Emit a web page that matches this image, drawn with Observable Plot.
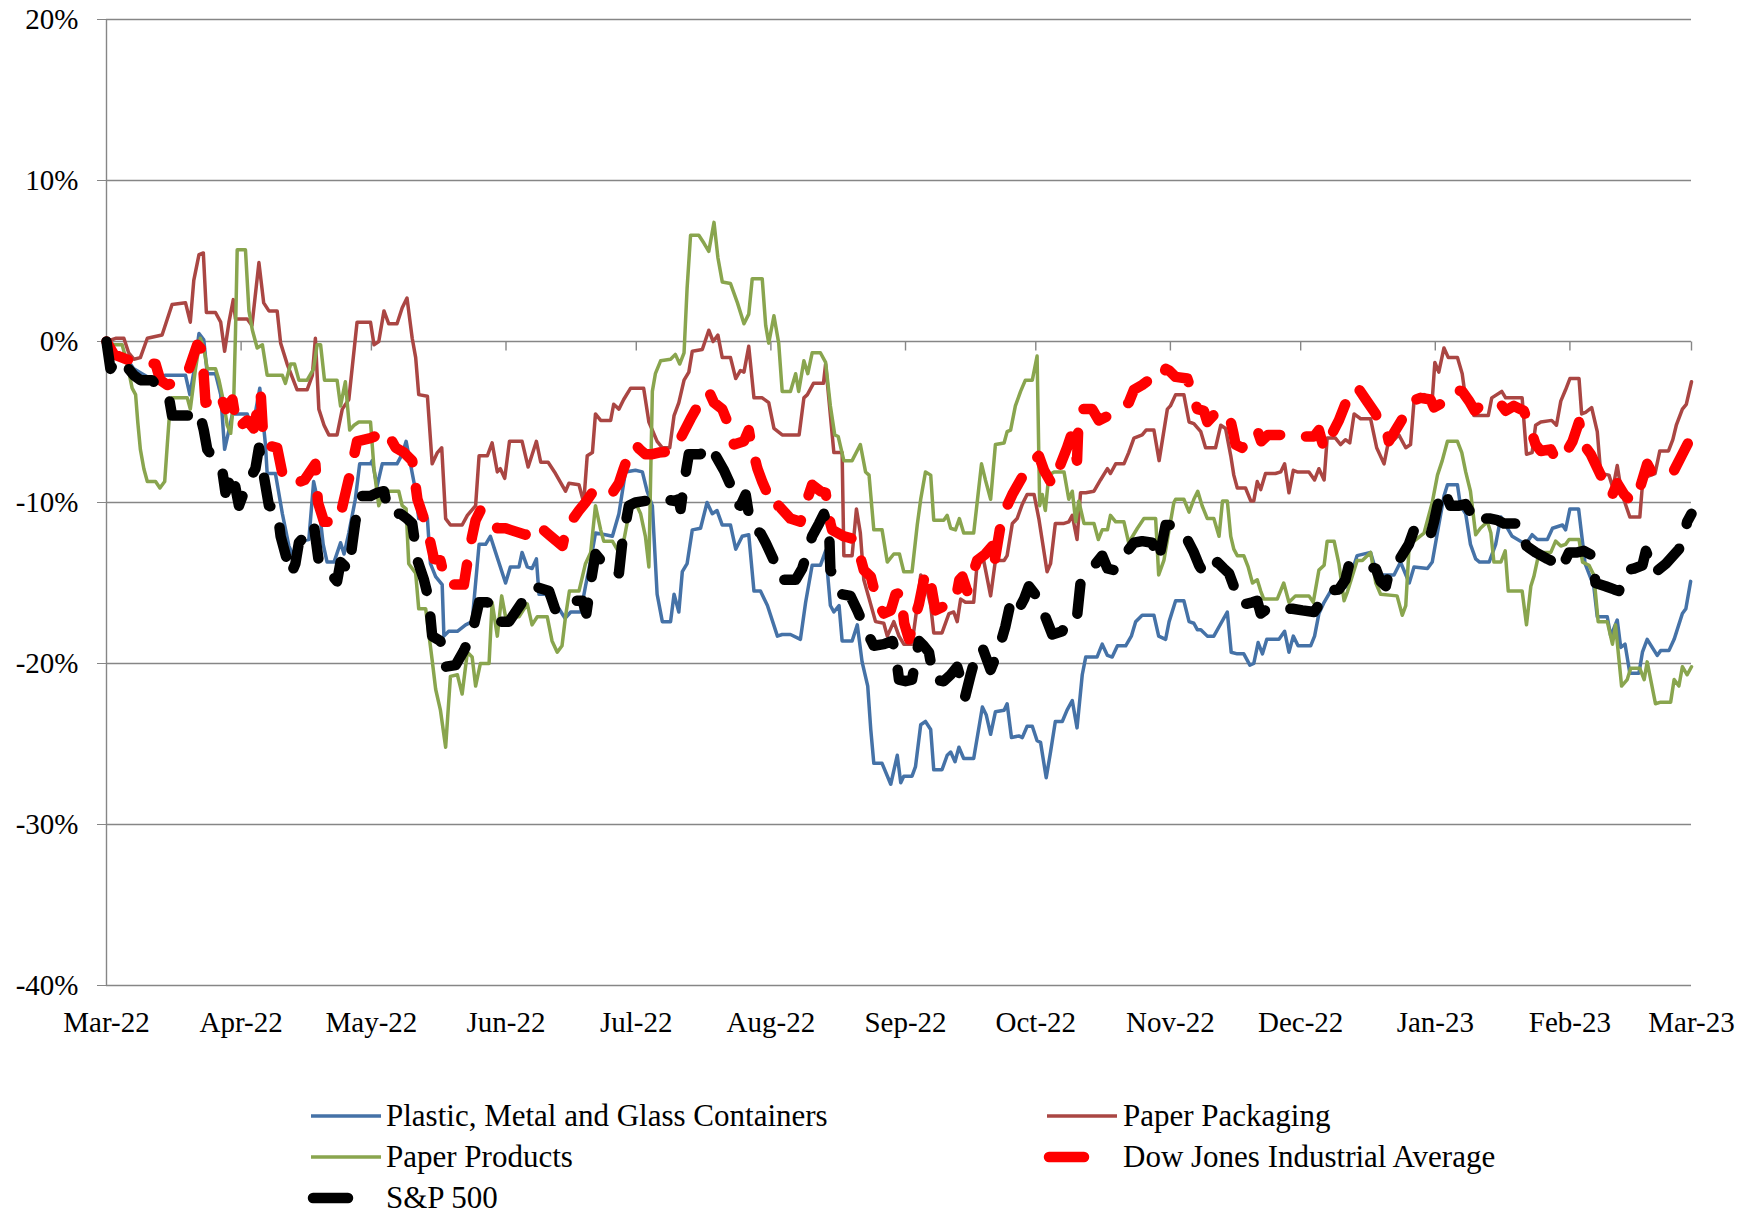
<!DOCTYPE html>
<html>
<head>
<meta charset="utf-8">
<script src="https://cdn.jsdelivr.net/npm/d3@7"></script>
<script src="https://cdn.jsdelivr.net/npm/@observablehq/plot@0.6"></script>
<style>
  html, body { margin: 0; padding: 0; background: #fff; }
  #wrap { position: relative; width: 1756px; height: 1214px; font-family: "Liberation Serif", "Times New Roman", serif; }
  #chart svg { overflow: visible; }
  .lg-sw { position: absolute; overflow: visible; }
  .lg-tx { position: absolute; font-size: 31px; line-height: 34px; color: #000; white-space: nowrap; }
</style>
</head>
<body>
<div id="wrap"><div id="chart"></div></div>
<script>
// ---------- data (day offset from 1 Mar 2022, % change) ----------
const START = Date.UTC(2022, 2, 1);
const END = Date.UTC(2023, 2, 1);
const DAY = 864e5;

const seriesNames = ["Plastic, Metal and Glass Containers", "Paper Packaging", "Paper Products", "Dow Jones Industrial Average", "S&P 500"];
const seriesColors = ["#4572A7", "#AA4643", "#89A54E", "#FF0000", "#000000"];

const plastic = [[0,0],[1.7,-0.7],[4.0,-0.8],[6.3,-1.7],[8.2,-2.0],[10.1,-2.3],[13.6,-2.1],[18.2,-2.1],[19.2,-3.3],[20.1,-1.9],[21.3,0.5],[22.4,0.1],[23.2,-2.0],[25.1,-2.0],[26.3,-3.3],[27.2,-6.7],[28.2,-5.5],[29.0,-4.5],[32.4,-4.5],[33.5,-5.6],[35.3,-2.9],[36.6,-6.4],[37.0,-8.2],[38.9,-8.2],[40.5,-10.7],[42.0,-12.7],[42.8,-13.2],[44.7,-12.4],[46.6,-12.3],[47.7,-8.7],[48.9,-10.2],[49.9,-12.6],[50.8,-13.7],[52.4,-13.7],[53.9,-12.5],[54.7,-13.2],[55.8,-11.9],[57.3,-9.8],[58.3,-7.6],[60.8,-7.6],
[61.2,-7.4],[62.3,-9.0],[63.5,-7.6],[66.9,-7.6],[68.1,-7.0],[69.0,-6.2],[71.2,-9.3],[71.9,-11.0],[73.9,-11.0],[74.6,-13.8],[75.8,-14.6],[77.3,-15.1],[77.7,-18.3],[78.8,-18.0],[80.8,-18.0],[82.7,-17.6],[84.2,-17.4],[85.8,-12.6],[87.3,-12.6],[88.4,-12.1],[89.6,-13.1],[91.9,-15.0],[93.0,-14.0],[95.0,-14.0],[95.7,-13.1],[96.9,-14.0],[98.0,-14.1],[99.0,-13.5],[99.6,-15.7],[101.1,-15.7],[102.6,-16.2],[104.2,-16.6],[105.6,-17.2],[106.9,-16.8],[109.2,-16.8],[110.3,-15.2],[111.5,-13.6],[112.6,-11.9],[114.9,-12.0],[116.5,-12.1],[118.0,-10.7],[119.5,-8.1],[121.8,-8.0],
[123.4,-8.1],[124.5,-9.3],[125.7,-10.2],[126.8,-15.7],[128.0,-17.4],[129.9,-17.4],[130.7,-15.7],[131.8,-16.8],[132.6,-14.3],[133.7,-13.8],[134.9,-11.7],[136.8,-11.6],[138.3,-10.0],[139.5,-10.7],[140.6,-10.5],[141.8,-11.4],[143.7,-11.4],[144.9,-12.9],[146.4,-12.1],[147.9,-12.0],[149.1,-15.5],[150.6,-15.5],[152.2,-16.4],[154.5,-18.3],[155.6,-18.2],[157.5,-18.2],[159.8,-18.5],[161.0,-16.2],[162.5,-13.9],[164.4,-13.9],[165.6,-13.0],[166.7,-16.4],[167.5,-16.8],[168.7,-16.4],[169.4,-18.6],[171.7,-18.6],[172.9,-17.6],[174.0,-19.9],[175.3,-21.4],[176.0,-24.1],[176.7,-26.2],[178.6,-26.2],[180.6,-27.5],[182.1,-25.7],[182.9,-27.4],
[183.6,-27.0],[185.5,-27.0],[186.3,-26.4],[187.5,-23.8],[188.6,-23.6],[189.8,-24.1],[190.5,-26.6],[192.4,-26.6],[193.6,-25.7],[194.4,-25.5],[195.4,-26.1],[196.3,-25.2],[197.4,-25.9],[199.7,-25.9],[201.7,-22.7],[202.6,-23.2],[203.6,-24.4],[204.7,-23.0],[206.7,-22.9],[207.4,-22.5],[208.4,-24.6],[210.1,-24.5],[210.9,-24.6],[212.0,-23.9],[213.2,-23.9],[214.3,-24.8],[215.1,-24.9],[216.4,-27.1],[217.4,-25.5],[218.5,-23.6],[220.1,-23.6],[221.2,-22.9],[222.4,-22.3],[223.5,-24.0],[224.7,-20.7],[225.5,-19.6],[228.1,-19.6],[229.3,-18.8],[230.5,-19.5],[231.6,-19.6],[232.8,-18.9],[234.7,-18.9],[236.0,-18.3],[237.0,-17.4],[238.5,-17.0],[241.2,-17.0],[242.3,-18.3],[243.9,-18.5],
[244.7,-17.4],[246.2,-16.1],[248.1,-16.1],[249.3,-17.4],[250.4,-17.5],[251.2,-17.9],[252.0,-17.9],[253.5,-18.3],[255.0,-18.3],[258.1,-16.8],[259.0,-19.3],[260.4,-19.4],[261.9,-19.4],[263.3,-20.1],[264.2,-20.0],[265.2,-18.7],[266.2,-19.4],[267.2,-18.5],[270.0,-18.5],[271.3,-18.0],[272.3,-19.3],[273.3,-18.3],[274.4,-18.9],[277.3,-18.9],[278.2,-18.3],[279.2,-16.9],[280.4,-16.2],[281.9,-15.5],[284.2,-15.4],[285.7,-15.2],[288.0,-13.3],[291.1,-13.1],[292.3,-14.2],[293.4,-14.5],[296.5,-14.5],[298.0,-13.7],[300.0,-15.0],[301.1,-14.0],[304.2,-14.1],
[305.3,-13.7],[306.8,-11.4],[308.0,-9.6],[308.8,-8.9],[311.1,-8.9],[311.8,-10.2],[313.0,-10.7],[314.1,-12.6],[315.3,-13.5],[316.2,-13.7],[318.4,-13.7],[319.9,-12.6],[321.1,-10.9],[323.7,-12.1],[326.8,-12.6],[328.3,-12.0],[329.5,-12.3],[331.8,-12.3],[333.0,-11.6],[335.3,-11.4],[336.0,-11.7],[337.0,-10.4],[339.0,-10.4],[340.5,-13.8],[342.5,-15.2],[343.3,-17.1],[345.6,-17.1],[346.4,-18.3],[347.9,-17.3],[348.7,-19.0],[349.7,-18.8],[350.8,-20.6],[352.9,-20.6],[353.7,-19.3],[354.8,-18.5],[357.1,-19.5],[357.9,-19.2],[359.8,-19.2],[361.0,-18.5],[362.9,-16.9],[363.7,-16.6],[364.8,-14.9]];

const packaging = [[0,0],[2.1,0.2],[4.0,0.2],[5.1,-0.7],[6.3,-1.1],[7.8,-1.0],[9.4,0.2],[12.8,0.4],[15.1,2.3],[18.2,2.4],[19.3,1.2],[20.1,3.8],[21.3,5.4],[22.3,5.5],[23.0,1.8],[25.1,1.8],[26.3,1.2],[27.2,-0.6],[28.2,1.2],[29.2,2.6],[29.7,1.4],[32.4,1.4],[33.5,1.0],[35.1,4.9],[36.2,2.4],[37.4,1.9],[39.3,1.9],[40.1,-0.1],[41.6,-1.4],[43.9,-3.0],[46.2,-3.0],[47.4,-2.1],[48.1,0.2],[48.9,-4.2],[50.1,-5.2],[51.2,-5.8],[53.1,-5.8],[54.3,-4.2],[55.8,-3.6],[57.7,1.2],[60.8,1.2],
[61.6,-0.2],[62.7,0],[63.9,1.9],[65.0,1.1],[66.9,1.1],[68.1,2.1],[69.2,2.7],[70.4,0.2],[71.2,-1.0],[71.9,-3.3],[73.9,-3.4],[75.0,-7.6],[76.2,-6.9],[77.2,-6.6],[78.1,-11.0],[79.2,-11.4],[81.9,-11.4],[83.1,-10.8],[85.0,-10.2],[85.8,-7.1],[87.7,-7.1],[88.8,-6.3],[90.0,-8.1],[90.7,-7.9],[91.7,-8.5],[92.8,-6.2],[95.7,-6.2],[97.1,-7.8],[99.0,-6.2],[100.0,-7.5],[101.7,-7.5],[103.4,-8.2],[105.7,-9.3],[106.5,-8.8],[108.8,-8.9],[109.9,-10.0],[110.7,-7.1],[111.9,-6.9],[112.6,-4.5],[113.8,-4.9],[116.1,-4.9],[116.8,-3.9],[118.0,-4.2],[119.1,-3.6],[120.7,-2.9],[121.8,-2.9],
[123.7,-2.9],[124.9,-5.0],[126.8,-6.2],[128.0,-6.6],[129.7,-6.6],[130.7,-4.6],[131.8,-3.8],[133.0,-2.4],[134.1,-1.9],[134.9,-0.6],[137.2,-0.5],[138.7,0.7],[139.7,0],[140.8,0.4],[141.8,-1.0],[143.7,-1.0],[144.9,-2.3],[146.0,-1.8],[146.8,-1.9],[147.9,-0.3],[149.1,-3.5],[151.0,-3.5],[152.5,-3.8],[153.7,-5.4],[155.6,-5.8],[159.5,-5.8],[160.6,-3.5],[161.4,-3.3],[162.8,-2.6],[165.1,-2.6],[165.6,-1.4],[167.5,-6.9],[169.4,-6.9],[169.8,-13.3],[171.7,-13.3],[172.7,-10.4],[173.6,-11.9],[174.4,-14.8],[177.1,-17.4],[179.0,-17.5],[179.8,-18.3],[181.3,-17.4],
[182.5,-18.3],[183.6,-18.8],[185.5,-18.8],[186.7,-16.4],[187.5,-14.5],[188.6,-15.0],[189.8,-16.4],[190.5,-18.1],[192.4,-18.1],[194.0,-16.9],[195.1,-16.8],[195.9,-17.4],[196.7,-16.0],[197.8,-16.2],[199.7,-16.2],[200.5,-13.8],[202.0,-13.6],[203.6,-15.8],[204.7,-13.6],[206.7,-13.6],[207.4,-13.3],[208.6,-11.3],[209.7,-11.0],[210.9,-10.1],[212.0,-9.5],[213.6,-9.5],[214.7,-11.0],[216.6,-14.3],[217.4,-13.8],[218.5,-11.3],[220.5,-11.3],[221.6,-11.2],[222.4,-10.8],[223.5,-12.3],[224.3,-9.4],[225.5,-9.4],[227.4,-9.3],[228.9,-8.6],[230.5,-7.9],[231.2,-8.2],[232.4,-7.6],[234.3,-7.6],[235.4,-6.9],[236.6,-6.0],[238.5,-5.8],[239.4,-5.5],[241.2,-5.5],[242.4,-7.4],
[244.3,-4.2],[245.0,-4.0],[246.2,-3.3],[248.1,-3.3],[249.3,-5.0],[250.4,-5.1],[252.0,-5.6],[253.1,-6.6],[255.4,-6.6],[256.6,-5.2],[257.7,-5.4],[258.9,-7.1],[259.6,-8.3],[260.4,-9.1],[262.3,-9.1],[263.5,-9.9],[264.2,-9.9],[265.0,-8.7],[265.8,-9.2],[266.9,-8.2],[269.2,-8.2],[270.4,-8.1],[271.3,-7.6],[272.3,-9.4],[273.3,-8.0],[274.2,-8.1],[276.9,-8.1],[278.2,-8.6],[279.2,-7.9],[280.4,-8.6],[281.1,-6.0],[283.0,-6.0],[284.2,-6.4],[285.3,-6.1],[286.3,-6.3],[287.3,-4.5],[288.8,-4.8],[291.1,-4.8],[292.5,-6.6],[294.2,-7.6],[295.3,-6.1],[296.5,-6.1],[297.6,-5.8],[299.2,-6.6],[300.3,-6.4],[301.1,-3.7],[302.2,-3.6],[303.4,-3.3],
[305.3,-3.6],[305.9,-1.3],[306.8,-1.9],[308.0,-0.4],[309.0,-1.0],[311.1,-1.0],[312.2,-2.0],[312.8,-3.2],[314.9,-4.6],[318.2,-4.6],[319.0,-3.5],[321.3,-3.1],[322.2,-3.5],[326.0,-3.5],[327.0,-7.0],[328.3,-6.9],[329.1,-5.2],[330.3,-5.0],[332.8,-4.9],[333.9,-5.2],[334.9,-3.7],[336.0,-3.0],[337.0,-2.3],[339.1,-2.3],[339.7,-4.5],[340.6,-4.4],[342.0,-4.1],[343.3,-5.6],[344.1,-8.2],[346.0,-8.3],[346.9,-9.1],[347.9,-7.7],[348.9,-9.4],[350.8,-10.9],[353.1,-10.9],[353.7,-8.9],[354.6,-8.4],[356.6,-8.2],[357.7,-6.8],[359.7,-6.8],[360.7,-6.1],[361.5,-5.2],[362.9,-4.2],[363.8,-3.9],[365.0,-2.5]];

const products = [[0,0],[1.7,-0.2],[3.6,-0.2],[4.8,-1.4],[5.9,-2.9],[6.7,-3.3],[7.2,-5.0],[7.8,-6.7],[8.6,-7.9],[9.4,-8.7],[11.3,-8.7],[12.3,-9.1],[13.4,-8.7],[14.0,-6.4],[14.7,-3.8],[15.1,-3.5],[18.6,-3.5],[19.3,-4.2],[20.5,-1.7],[21.6,0.2],[22.4,-0.4],[23.2,-1.7],[25.1,-1.7],[25.9,-2.4],[27.0,-3.8],[27.8,-5.2],[28.6,-5.7],[29.3,-3.6],[29.7,0.5],[30.1,5.7],[32.0,5.7],[32.8,1.9],[33.6,0.7],[34.7,-0.4],[35.9,-0.2],[37.0,-2.1],[40.5,-2.1],[41.2,-2.6],[42.4,-1.4],[43.3,-1.4],[44.3,-2.4],[46.2,-2.4],[47.7,-1.7],[48.5,-0.2],[49.3,-0.2],[50.2,-2.4],[53.1,-2.4],[53.9,-4.0],[55.0,-2.5],[56.0,-5.5],[57.0,-5.2],[58.1,-5.0],[60.8,-5.0],
[61.6,-7.9],[62.7,-10.2],[63.9,-9.3],[67.3,-9.3],[68.1,-10.2],[69.0,-10.4],[69.6,-13.8],[71.2,-14.4],[71.9,-16.6],[73.5,-16.6],[75.0,-19.8],[75.8,-21.6],[76.9,-22.9],[78.1,-25.2],[79.2,-20.8],[80.8,-20.7],[81.9,-21.9],[83.1,-19.3],[84.2,-19.6],[85.0,-21.4],[86.1,-20.0],[88.1,-20.0],[88.8,-16.2],[90.0,-18.3],[91.0,-15.8],[91.9,-17.1],[95.0,-17.1],[96.9,-16.3],[98.0,-17.6],[99.2,-17.1],[101.5,-17.1],[102.6,-18.6],[103.8,-19.3],[104.9,-18.9],[105.7,-17.1],[106.6,-15.5],[108.8,-15.5],[110.3,-13.8],[111.5,-13.1],[112.6,-10.2],[113.8,-11.7],[114.5,-12.4],[116.5,-12.4],[118.0,-13.1],[119.1,-12.4],[120.3,-10.7],[121.8,-10.0],
[123.0,-10.7],[124.1,-12.1],[124.9,-14.0],[125.7,-3.1],[126.4,-2.0],[127.6,-1.2],[129.9,-1.1],[131.0,-0.8],[132.0,-1.4],[133.0,-0.7],[133.7,3.3],[134.5,6.6],[136.4,6.6],[137.6,6.1],[138.7,5.6],[139.9,7.4],[140.8,5.2],[141.8,3.7],[143.7,3.6],[145.3,2.4],[146.8,1.1],[147.9,1.7],[148.7,3.9],[151.0,3.9],[151.8,1.0],[152.5,-0.1],[153.7,1.6],[154.8,-0.1],[155.6,-3.1],[157.5,-3.1],[158.7,-2.0],[159.4,-3.1],[160.6,-1.2],[161.5,-2.0],[162.5,-0.7],[164.4,-0.7],[165.6,-1.3],[166.7,-4.0],[167.7,-5.8],[168.5,-5.9],[169.8,-7.4],[171.7,-7.4],[173.6,-6.4],[174.8,-8.1],[175.6,-8.3],[176.7,-11.7],[178.6,-11.7],[179.8,-13.7],[181.3,-13.2],[182.6,-13.2],
[183.6,-14.3],[185.5,-14.3],[186.7,-11.4],[187.5,-9.8],[188.6,-8.1],[189.8,-8.3],[190.5,-11.1],[192.8,-11.1],[193.6,-10.8],[194.4,-11.6],[195.5,-11.7],[196.4,-11.0],[197.4,-11.9],[199.7,-11.9],[200.5,-10.0],[201.5,-7.6],[202.4,-8.6],[203.6,-9.8],[204.7,-6.4],[206.7,-6.3],[207.4,-5.6],[208.2,-5.5],[209.3,-4.0],[210.5,-3.1],[211.6,-2.4],[213.2,-2.4],[214.3,-0.9],[214.9,-10.2],[215.5,-9.5],[216.2,-10.5],[217.0,-8.3],[218.2,-8.1],[220.5,-8.1],[221.6,-9.8],[222.4,-9.3],[223.2,-11.2],[223.9,-9.9],[225.1,-11.3],[227.4,-11.3],[228.4,-12.3],[229.3,-11.7],[230.5,-11.7],[231.2,-10.8],[232.4,-11.2],[234.3,-11.2],[235.4,-12.5],[237.4,-11.6],[238.9,-11.0],[241.6,-11.0],[242.3,-14.5],
[243.5,-13.6],[244.7,-11.7],[245.8,-10.0],[246.2,-9.8],[248.1,-9.8],[249.3,-10.6],[250.4,-9.8],[251.3,-9.3],[252.3,-10.2],[253.5,-11.0],[255.0,-11.0],[256.2,-12.1],[257.0,-9.9],[258.1,-9.9],[258.9,-12.1],[259.6,-12.9],[260.4,-13.3],[261.9,-13.3],[262.9,-14.0],[263.9,-15.0],[265.0,-14.8],[265.8,-15.5],[266.5,-16.0],[269.6,-16.0],[271.1,-15.0],[272.3,-16.2],[273.8,-15.8],[276.9,-15.8],[277.9,-16.2],[279.2,-14.2],[280.4,-13.9],[281.1,-12.4],[282.7,-12.4],[283.8,-13.8],[285.0,-16.1],[285.7,-15.6],[288.0,-13.6],[289.2,-13.6],[291.1,-13.1],[292.3,-15.0],[293.4,-15.7],[297.2,-15.8],[298.4,-17.0],[299.2,-16.4],[300.0,-12.6],[301.1,-12.4],[303.4,-11.9],
[305.3,-10.0],[306.5,-8.3],[307.6,-7.4],[308.8,-6.2],[311.1,-6.2],[312.1,-6.9],[313.0,-8.1],[314.1,-9.3],[315.3,-12.0],[316.4,-11.6],[318.0,-11.2],[318.8,-11.9],[319.5,-13.7],[321.1,-13.7],[322.1,-13.0],[322.8,-15.5],[326.0,-15.5],[327.0,-17.6],[328.0,-15.2],[328.7,-14.6],[329.9,-13.1],[332.6,-13.1],[333.7,-12.4],[334.9,-12.7],[336.0,-12.6],[336.8,-12.3],[339.1,-12.3],[339.9,-13.7],[341.4,-13.9],[342.5,-14.5],[343.5,-17.4],[345.6,-17.4],[346.8,-18.8],[347.5,-17.6],[348.9,-21.4],[350.2,-21.0],[351.0,-20.3],[353.1,-20.3],[354.1,-21.0],[354.8,-19.9],[356.7,-22.5],[357.9,-22.4],[360.2,-22.4],[361.0,-21.0],[362.1,-21.4],[362.9,-20.2],[364.0,-20.7],[365.0,-20.2]];

const djia = [[0,0],[1.7,-0.8],[5.5,-1.2],[8.6,-1.3],[11.3,-1.4],[12.4,-2.4],[14.0,-2.7],[17.0,-2.4],[19.0,-1.7],[20.9,-0.2],[22.0,-0.5],[22.8,-3.8],[24.7,-3.6],[26.1,-3.2],[27.4,-4.2],[29.0,-3.6],[30.1,-5.4],[32.4,-4.9],[33.9,-5.4],[35.5,-3.2],[36.2,-6.4],[39.3,-6.6],[40.5,-8.2],[42.8,-8.9],[45.6,-8.6],[48.1,-7.6],[48.7,-10.0],[50.1,-11.2],[53.5,-11.2],[55.4,-9.0],[56.2,-8.1],[57.7,-6.2],[60.8,-6.0],
[62.7,-5.8],[64.3,-5.5],[66.6,-6.6],[68.5,-6.9],[70.4,-7.4],[71.6,-9.8],[73.1,-11.0],[74.2,-12.0],[75.4,-13.5],[76.9,-13.6],[78.1,-15.0],[78.8,-15.1],[82.3,-15.1],[83.1,-13.7],[84.2,-12.1],[85.0,-11.1],[86.1,-10.5],[88.4,-10.7],[90.0,-11.6],[91.9,-11.6],[93.0,-11.7],[96.5,-12.0],[98.8,-11.3],[101.9,-12.0],[105.0,-12.7],[106.1,-11.3],[107.2,-11.1],[108.8,-10.5],[110.3,-10.0],[112.6,-9.1],[116.5,-9.4],[118.0,-8.8],[119.1,-7.9],[120.7,-6.7],[121.8,-6.4],
[122.8,-6.7],[124.1,-7.0],[125.7,-7.0],[127.2,-6.9],[130.7,-6.8],[132.2,-6.0],[132.6,-5.8],[134.5,-4.8],[136.8,-3.7],[138.7,-3.1],[139.9,-3.8],[141.8,-4.2],[143.3,-5.2],[144.5,-6.4],[146.8,-6.2],[147.9,-5.5],[148.5,-6.4],[149.9,-7.9],[151.0,-8.7],[153.7,-10.4],[154.8,-10.2],[157.5,-11.0],[159.8,-11.2],[161.0,-10.1],[162.5,-8.9],[164.4,-9.3],[165.6,-9.4],[166.7,-11.3],[167.1,-11.7],[169.8,-12.1],[172.5,-12.3],[174.4,-14.2],[176.0,-14.6],[177.5,-16.2],[179.0,-16.9],[180.6,-16.7],[181.7,-15.7],[182.9,-15.6],
[183.7,-17.5],[184.8,-18.5],[185.9,-17.4],[187.1,-16.3],[188.6,-14.3],[189.8,-15.0],[190.9,-16.7],[193.2,-16.4],[195.5,-16.1],[196.4,-14.8],[197.1,-14.6],[198.2,-15.5],[199.4,-14.5],[200.5,-13.6],[202.4,-13.2],[204.0,-12.7],[204.3,-14.0],[205.9,-11.4],[207.4,-10.2],[208.6,-9.5],[210.7,-8.5],[212.8,-7.6],[214.7,-7.1],[215.9,-8.0],[217.8,-8.9],[219.3,-7.9],[221.2,-6.6],[222.2,-5.8],[223.5,-7.4],[223.9,-4.5],[224.7,-4.2],[227.0,-4.2],[228.5,-4.9],[231.6,-4.5],[235.4,-3.8],[236.6,-3.0],[238.5,-2.7],[240.0,-2.4],[243.1,-2.4],[243.9,-1.7],
[244.7,-1.8],[246.2,-2.2],[248.9,-2.3],[250.0,-3.2],[251.2,-4.2],[252.7,-4.3],[253.5,-5.0],[255.2,-4.5],[256.2,-4.6],[258.5,-4.5],[259.5,-5.7],[260.0,-6.4],[261.5,-6.6],[263.5,-6.0],[265.0,-5.5],[265.9,-6.2],[267.5,-5.8],[271.1,-5.8],[273.1,-5.9],[275.0,-5.9],[278.1,-5.9],[279.2,-5.5],[280.4,-6.7],[281.9,-5.9],[283.8,-4.9],[285.7,-3.6],[288.0,-2.8],[290.0,-3.6],[292.3,-4.5],[293.4,-5.5],[294.9,-5.7],[295.3,-6.2],[298.0,-5.0],[300.7,-3.7],[302.6,-3.5],[304.9,-3.6],
[305.7,-4.1],[308.4,-3.7],[310.7,-3.0],[312.2,-3.1],[313.8,-3.7],[315.1,-4.3],[316.8,-3.9],[319.1,-3.8],[321.1,-3.9],[322.2,-4.3],[324.1,-4.0],[326.4,-4.3],[328.0,-5.5],[329.1,-6.4],[330.3,-6.8],[332.6,-6.7],[333.7,-7.3],[335.3,-7.3],[337.6,-6.2],[339.1,-5.0],[340.2,-6.4],[341.8,-7.0],[344.1,-8.3],[345.6,-9.5],[346.8,-9.5],[347.9,-8.8],[349.5,-9.5],[351.4,-10.0],[352.9,-9.3],[354.8,-7.6],[356.0,-8.2],[359.1,-8.3],[361.0,-8.0],[362.9,-7.0],[364.4,-6.2],[365.0,-6.0]];

const sp500 = [[0,0],[0.9,-1.7],[2.1,-1.2],[3.6,-1.1],[5.1,-1.7],[6.3,-2.1],[7.8,-2.4],[10.5,-2.4],[12.1,-2.9],[13.2,-3.2],[14.4,-3.5],[15.1,-4.6],[20.1,-4.6],[21.3,-4.3],[22.4,-5.5],[23.2,-6.7],[25.1,-7.4],[26.6,-7.9],[27.4,-9.4],[29.0,-8.1],[30.5,-10.2],[32.4,-8.8],[34.3,-7.9],[35.1,-6.6],[36.2,-8.3],[37.4,-10.2],[39.3,-10.4],[40.1,-12.1],[41.6,-13.6],[42.4,-14.5],[43.5,-13.8],[44.3,-12.5],[46.2,-11.9],[47.7,-11.3],[48.9,-13.7],[51.2,-14.3],[53.1,-14.9],[53.9,-13.7],[55.8,-14.2],[56.6,-12.6],[57.3,-11.2],[58.5,-9.6],[60.8,-9.6],
[62.3,-9.4],[63.9,-9.3],[65.0,-10.7],[67.7,-10.7],[69.2,-11.0],[70.4,-11.3],[71.6,-13.6],[73.1,-14.8],[74.2,-16.0],[75.0,-18.3],[76.9,-18.6],[78.1,-20.2],[80.4,-20.1],[82.3,-19.2],[84.2,-18.1],[85.8,-16.2],[87.7,-16.2],[89.6,-16.4],[90.7,-17.4],[92.7,-17.4],[95.7,-16.2],[98.4,-15.2],[101.9,-15.5],[103.4,-16.7],[105.0,-16.3],[106.5,-16.1],[109.6,-16.1],[110.5,-16.9],[111.5,-15.0],[112.6,-13.2],[114.5,-13.8],[116.5,-13.8],[118.0,-14.4],[118.8,-12.4],[120.3,-10.2],[121.8,-10.0],
[124.1,-9.9],[126.4,-9.7],[130.7,-9.9],[131.8,-9.8],[132.2,-10.4],[133.0,-8.8],[134.1,-7.0],[136.8,-7.0],[138.7,-6.4],[140.3,-7.1],[142.2,-8.0],[143.7,-8.9],[144.9,-10.1],[146.0,-10.2],[147.2,-9.5],[147.9,-10.7],[149.1,-11.7],[150.6,-11.9],[151.8,-12.5],[153.7,-13.6],[155.2,-14.8],[158.7,-14.8],[160.2,-14.1],[161.4,-13.1],[162.5,-12.1],[164.1,-11.3],[165.2,-10.7],[166.4,-11.7],[166.7,-14.2],[168.3,-14.8],[169.4,-15.7],[171.3,-15.8],[172.9,-16.7],[174.0,-17.4],[175.2,-18.1],[176.7,-18.9],[179.0,-18.8],[181.0,-18.6],[181.7,-19.3],[182.5,-21.0],
[184.0,-21.1],[185.5,-21.0],[186.3,-19.8],[187.1,-18.6],[188.2,-18.9],[189.4,-19.3],[190.5,-21.0],[192.8,-21.1],[194.4,-20.7],[195.9,-20.2],[197.1,-21.3],[197.7,-22.1],[199.0,-20.7],[200.5,-19.2],[201.7,-19.0],[203.6,-20.4],[205.5,-19.1],[207.0,-17.7],[208.2,-16.2],[209.7,-16.8],[211.3,-16.0],[212.4,-15.2],[214.7,-16.0],[216.2,-17.1],[217.8,-18.2],[220.1,-18.0],[221.6,-17.1],[223.5,-17.1],[224.3,-15.0],[226.2,-14.4],[227.8,-13.8],[229.3,-13.3],[230.5,-14.1],[232.0,-14.2],[234.3,-13.3],[236.6,-12.5],[238.5,-12.4],[240.8,-12.5],[242.3,-13.6],[243.9,-11.4],
[245.0,-11.4],[247.7,-11.7],[248.9,-12.3],[250.4,-13.1],[251.6,-13.9],[252.7,-14.4],[254.6,-14.4],[255.8,-13.7],[257.3,-14.1],[258.5,-14.4],[259.6,-15.2],[260.5,-16.2],[262.3,-16.3],[263.9,-16.2],[265.0,-16.1],[265.8,-16.9],[267.3,-16.6],[271.1,-16.6],[273.1,-16.6],[275.4,-16.7],[278.1,-16.8],[279.6,-16.2],[281.1,-15.5],[283.8,-15.4],[285.3,-14.8],[286.1,-13.9],[289.2,-13.9],[292.3,-14.1],[293.4,-14.9],[294.6,-15.2],[295.3,-14.4],[297.6,-13.6],[299.9,-12.6],[301.1,-11.7],[302.2,-11.4],[304.2,-11.6],[304.9,-12.0],
[305.7,-11.2],[306.5,-10.2],[307.6,-9.2],[308.4,-9.5],[309.5,-10.2],[311.5,-10.2],[313.0,-10.1],[314.5,-10.8],[315.3,-11.3],[317.2,-11.0],[318.7,-11.0],[320.3,-11.1],[321.8,-11.3],[325.3,-11.3],[326.0,-11.9],[327.0,-12.7],[329.1,-13.1],[331.8,-13.5],[333.3,-13.7],[334.9,-14.2],[336.8,-13.1],[338.7,-13.1],[340.2,-13.0],[342.2,-13.3],[342.9,-15.0],[345.2,-15.2],[347.2,-15.4],[348.3,-15.5],[349.1,-14.8],[350.0,-14.2],[351.8,-14.1],[353.7,-13.9],[354.5,-13.0],[355.2,-13.5],[356.4,-14.4],[359.1,-13.8],[362.1,-12.9],[363.3,-12.1],[364.0,-11.2],[365.0,-10.7]];

const yTicks = [-40, -30, -20, -10, 0, 10, 20];
const monthTicks = d3.utcMonth.range(new Date(START), new Date(END + DAY));

// ---------- build ----------
const toRows = arr => arr.map(([d, v]) => ({date: new Date(START + d * DAY), value: v}));
const seriesData = [plastic, packaging, products, djia, sp500];
const dashed = [false, false, false, true, true];

const GRID = "#868686";
const THIN = 3.5, THICK = 10.5, DASH = "30,26";

const lineMarks = seriesData.map((arr, i) => Plot.line(toRows(arr), {
  x: "date", y: "value",
  stroke: seriesColors[i],
  strokeWidth: dashed[i] ? THICK : THIN,
  strokeDasharray: dashed[i] ? DASH : null,
  strokeLinecap: "round",
  strokeLinejoin: "round"
}));

// small vertical tick drawn downward from the 0% axis line
const downTick = {draw(ctx) { ctx.moveTo(0, 0); ctx.lineTo(0, 9); }};

const chart = Plot.plot({
  width: 1756,
  height: 1060,
  marginLeft: 106,
  marginRight: 65,
  marginTop: 19,
  marginBottom: 75,
  style: {fontFamily: "'Liberation Serif', 'Times New Roman', serif", fontSize: "29px", color: "#000", background: "#fff", overflow: "visible"},
  x: {type: "utc", domain: [new Date(START), new Date(END)]},
  y: {domain: [-40, 20]},
  marks: [
    Plot.ruleY(yTicks, {stroke: GRID, strokeWidth: 1.4}),
    Plot.ruleX([new Date(START)], {stroke: GRID, strokeWidth: 1.4}),
    Plot.dot(monthTicks, {x: d => d, y: () => 0, symbol: downTick, r: 5, fill: "none", stroke: GRID, strokeWidth: 1.4}),
    Plot.axisY({ticks: yTicks, tickSize: 9, tickPadding: 19, tickFormat: d => d + "%", stroke: GRID, fill: "#000", fontSize: 29, label: null}),
    Plot.axisX({ticks: monthTicks, tickSize: 0, tickPadding: 26, tickFormat: d3.utcFormat("%b-%y"), fill: "#000", fontSize: 29, label: null}),
    ...lineMarks
  ]
});
document.getElementById("chart").appendChild(chart);

// ---------- legend (HTML below the SVG) ----------
const wrap = document.getElementById("wrap");
const legendLayout = [
  {sw: 311, tx: 386, cy: 1116},
  {sw: 1047, tx: 1123, cy: 1116},
  {sw: 311, tx: 386, cy: 1157},
  {sw: 1047, tx: 1123, cy: 1157},
  {sw: 311, tx: 386, cy: 1198}
];
seriesNames.forEach((name, i) => {
  const L = legendLayout[i];
  const svg = d3.create("svg").attr("class", "lg-sw").attr("width", 70).attr("height", 14)
    .style("left", L.sw + "px").style("top", (L.cy - 7) + "px");
  if (dashed[i]) {
    svg.append("line").attr("x1", 2).attr("x2", 37).attr("y1", 7).attr("y2", 7)
      .attr("stroke", seriesColors[i]).attr("stroke-width", THICK).attr("stroke-linecap", "round");
  } else {
    svg.append("line").attr("x1", 0).attr("x2", 70).attr("y1", 7).attr("y2", 7)
      .attr("stroke", seriesColors[i]).attr("stroke-width", THIN);
  }
  wrap.appendChild(svg.node());
  const t = document.createElement("div");
  t.className = "lg-tx";
  t.textContent = name;
  t.style.left = L.tx + "px";
  t.style.top = (L.cy - 17) + "px";
  wrap.appendChild(t);
});
</script>
</body>
</html>
